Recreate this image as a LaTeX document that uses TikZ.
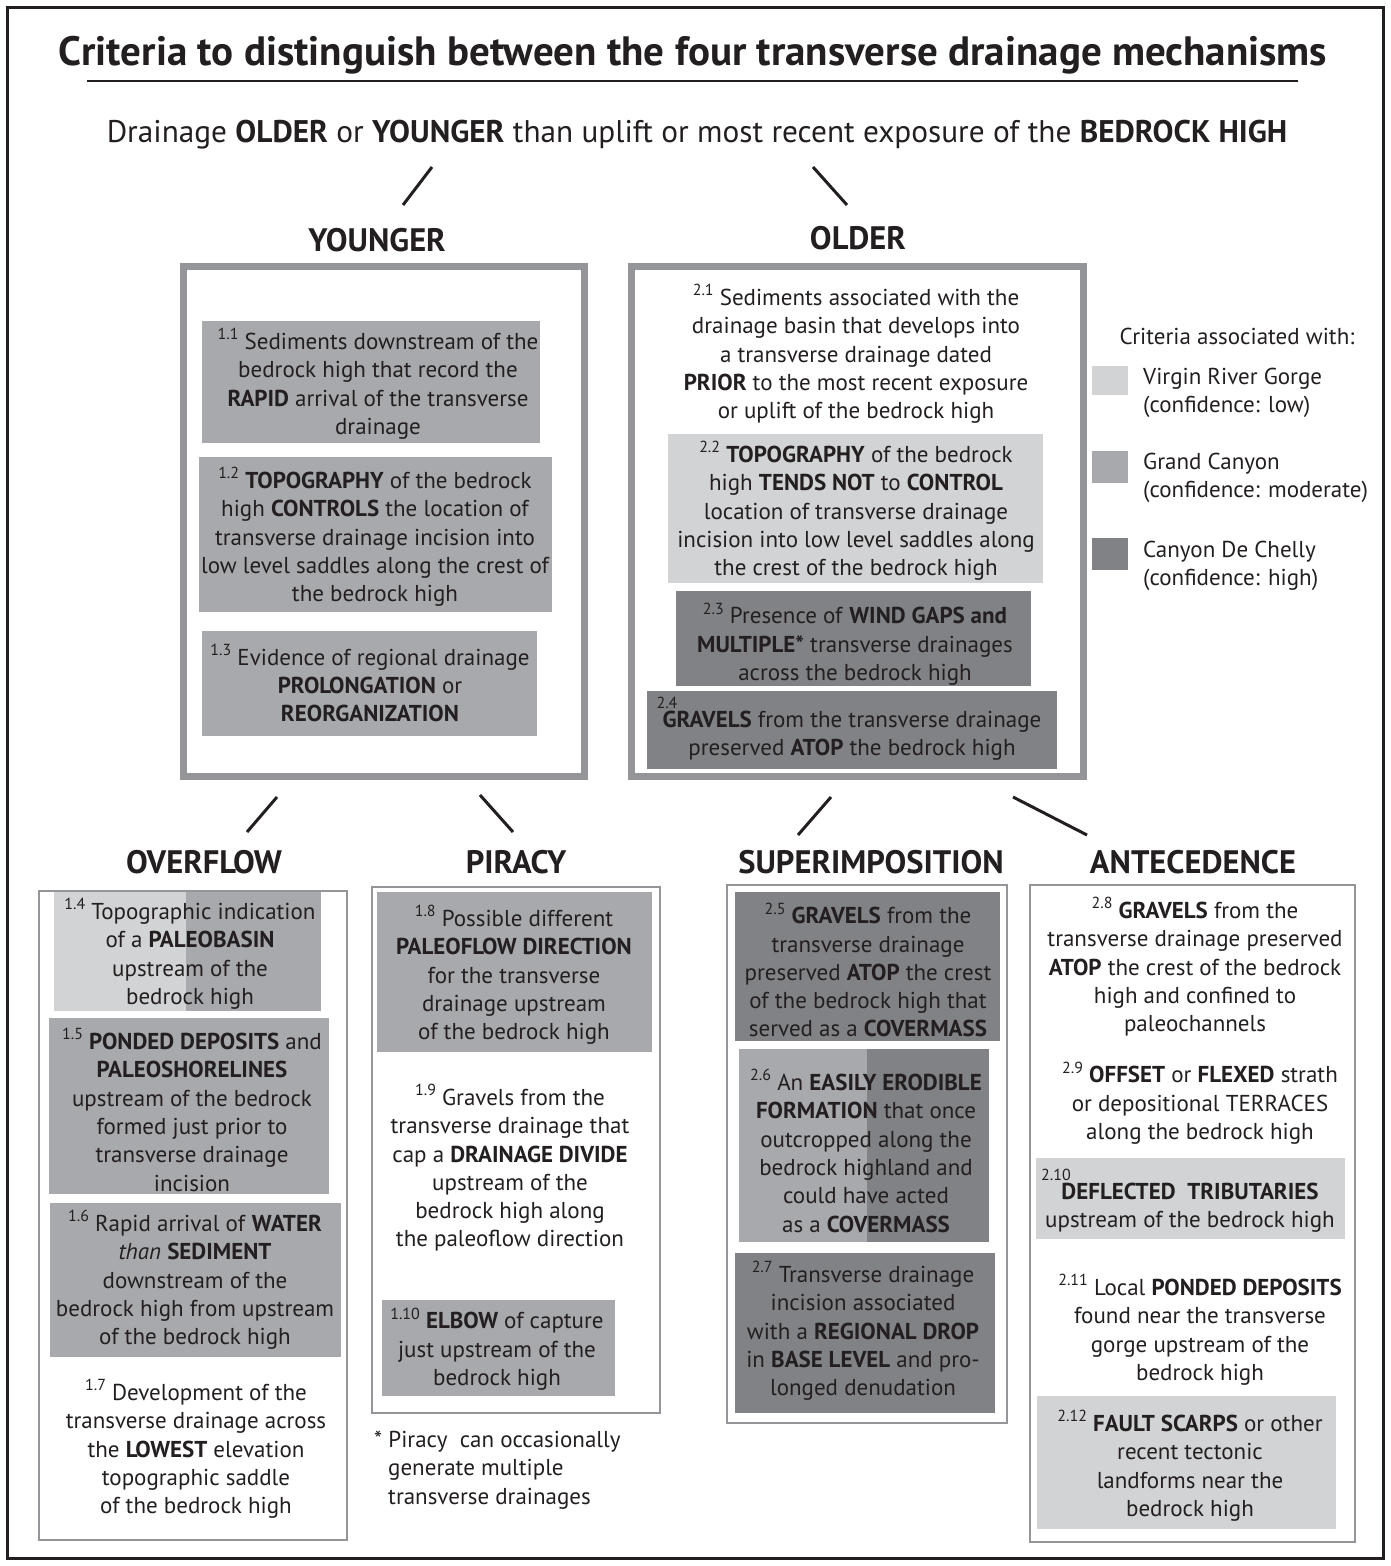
\documentclass[tikz,border=0pt]{standalone}
\usepackage{fontspec}
\setmainfont{PT Sans}
\definecolor{lgray}{HTML}{D1D3D4}
\definecolor{mgray}{HTML}{A7A9AC}
\definecolor{dgray}{HTML}{808285}
\definecolor{bgray}{HTML}{939598}
\definecolor{ink}{HTML}{231F20}
\newcommand\sn[1]{\raisebox{0.42em}{\fontsize{16}{16}\selectfont #1}}
\begin{document}
\begin{tikzpicture}[x=1pt,y=-1pt,
  body/.style={font=\fontsize{23}{28.3}\selectfont, align=center, inner sep=0pt, text=ink},
  head/.style={font=\fontsize{32.5}{36}\selectfont\bfseries, inner sep=0pt, text=ink},
  bigbox/.style={draw=bgray, line width=7},
  smallbox/.style={draw=bgray, line width=2},
  slash/.style={draw=ink, line width=3},
  leg/.style={font=\fontsize{23}{28}\selectfont, align=left, anchor=west, inner sep=0pt, text=ink}]
\useasboundingbox (0,0) rectangle (1390,1566);
\fill[white] (0,0) rectangle (1390,1566);
\draw[ink, line width=3] (7,7) rectangle (1383,1558);

% title
\node[font=\fontsize{41}{46}\selectfont\bfseries, inner sep=0pt, text=ink] (title) at (693,55) {Criteria to distinguish between the four transverse drainage mechanisms};
\coordinate (ulA) at (87,81); \coordinate (ulB) at (1298,81);
\draw[ink, line width=2.5] (ulA) -- (ulB);
\node[font=\fontsize{31.3}{35}\selectfont, inner sep=0pt, text=ink] (sub) at (697,135) {Drainage \textbf{OLDER} or \textbf{YOUNGER} than uplift or most recent exposure of the \textbf{BEDROCK HIGH}};

% level 1 connectors
\coordinate (s1a) at (432,167); \coordinate (s1b) at (403,205);
\coordinate (s2a) at (813,167); \coordinate (s2b) at (847,205);
\draw[slash] (s1a) -- (s1b);
\draw[slash] (s2a) -- (s2b);

\node[head] (younger) at (377,240) {YOUNGER};
\node[head] (older) at (858,238) {OLDER};

% YOUNGER box
\draw[bigbox] (183,266) rectangle (584,776);
\fill[mgray] (202,321) rectangle (540,443);
\fill[mgray] (199,457) rectangle (552,612);
\fill[mgray] (202,631) rectangle (537,736);
\node[body] (t11) at (378,384) {\sn{1.1} Sediments downstream of the\\bedrock high that record the\\\textbf{RAPID} arrival of the transverse\\drainage};
\node[body] (t12) at (375,537) {\sn{1.2} \textbf{TOPOGRAPHY} of the bedrock\\high \textbf{CONTROLS} the location of\\transverse drainage incision into\\low level saddles along the crest of\\the bedrock high};
\node[body] (t13) at (370,683) {\sn{1.3} Evidence of regional drainage\\\textbf{PROLONGATION} or\\\textbf{REORGANIZATION}};

% OLDER box
\draw[bigbox] (631,266) rectangle (1083,776);
\node[body] (t21) at (856,354) {\sn{2.1} Sediments associated with the\\drainage basin that develops into\\a transverse drainage dated\\\textbf{PRIOR} to the most recent exposure\\or uplift of the bedrock high};
\fill[lgray] (668,434) rectangle (1043,583);
\node[body] (t22) at (856,511) {\sn{2.2} \textbf{TOPOGRAPHY} of the bedrock\\high \textbf{TENDS NOT} to \textbf{CONTROL}\\location of transverse drainage\\incision into low level saddles along\\the crest of the bedrock high};
\fill[dgray] (676,591) rectangle (1031,686);
\node[body] (t23) at (855,644) {\sn{2.3} Presence of \textbf{WIND GAPS and}\\\textbf{MULTIPLE*} transverse drainages\\across the bedrock high};
\fill[dgray] (647,691) rectangle (1057,769);
\node[font=\fontsize{16}{16}\selectfont, inner sep=0pt, text=ink] (n24) at (667,703) {2.4};
\node[body] (t24) at (852,736) {\textbf{GRAVELS} from the transverse drainage\\preserved \textbf{ATOP} the bedrock high};

% legend
\node[font=\fontsize{23}{28}\selectfont, inner sep=0pt, text=ink] (legt) at (1237,336) {Criteria associated with:};
\fill[lgray] (1092,366) rectangle (1128,395);
\fill[mgray] (1092,451) rectangle (1128,483);
\fill[dgray] (1092,538) rectangle (1128,570);
\node[leg] (leg1) at (1143,393) {Virgin River Gorge\\(confidence: low)};
\node[leg] (leg2) at (1143,478) {Grand Canyon\\(confidence: moderate)};
\node[leg] (leg3) at (1143,566) {Canyon De Chelly\\(confidence: high)};

% level 2 connectors
\coordinate (s3a) at (277,797); \coordinate (s3b) at (247,832);
\coordinate (s4a) at (480,795); \coordinate (s4b) at (513,832);
\coordinate (s5a) at (831,797); \coordinate (s5b) at (798,835);
\coordinate (s6a) at (1013,797); \coordinate (s6b) at (1087,835);
\draw[slash] (s3a) -- (s3b);
\draw[slash] (s4a) -- (s4b);
\draw[slash] (s5a) -- (s5b);
\draw[slash] (s6a) -- (s6b);

\node[head] (overflow) at (204,862) {OVERFLOW};
\node[head] (piracy) at (516,862) {PIRACY};
\node[head] (superimp) at (871,862) {SUPERIMPOSITION};
\node[head] (antec) at (1193,862) {ANTECEDENCE};

% OVERFLOW
\draw[smallbox] (39,891) rectangle (347,1540);
\fill[lgray] (54,892) rectangle (186,1011);
\fill[mgray] (186,892) rectangle (321,1011);
\fill[mgray] (49,1018) rectangle (329,1194);
\fill[mgray] (50,1203) rectangle (341,1357);
\node[body] (t14) at (190,954) {\sn{1.4} Topographic indication\\of a \textbf{PALEOBASIN}\\upstream of the\\bedrock high};
\node[body] (t15) at (192,1110) {\sn{1.5} \textbf{PONDED DEPOSITS} and\\\textbf{PALEOSHORELINES}\\upstream of the bedrock\\formed just prior to\\transverse drainage\\incision};
\node[body] (t16) at (195,1280) {\sn{1.6} Rapid arrival of \textbf{WATER}\\\textit{than} \textbf{SEDIMENT}\\downstream of the\\bedrock high from upstream\\of the bedrock high};
\node[body] (t17) at (196,1449) {\sn{1.7} Development of the\\transverse drainage across\\the \textbf{LOWEST} elevation\\topographic saddle\\of the bedrock high};

% PIRACY
\draw[smallbox] (372,887) rectangle (660,1413);
\fill[mgray] (377,892) rectangle (652,1052);
\node[body] (t18) at (514,975) {\sn{1.8} Possible different\\\textbf{PALEOFLOW DIRECTION}\\for the transverse\\drainage upstream\\of the bedrock high};
\node[body] (t19) at (510,1168) {\sn{1.9} Gravels from the\\transverse drainage that\\cap a \textbf{DRAINAGE DIVIDE}\\upstream of the\\bedrock high along\\the paleoflow direction};
\fill[mgray] (382,1300) rectangle (615,1396);
\node[body] (t110) at (497,1349) {\sn{1.10} \textbf{ELBOW} of capture\\just upstream of the\\bedrock high};
\node[body, align=left, anchor=north west] (foot) at (374,1431) {* Piracy\ \ can occasionally\\\hspace*{14pt}generate multiple\\\hspace*{14pt}transverse drainages};

% SUPERIMPOSITION
\draw[smallbox] (727,885) rectangle (1007,1423);
\fill[dgray] (735,892) rectangle (1000,1041);
\node[body] (t25) at (868,970) {\sn{2.5} \textbf{GRAVELS} from the\\transverse drainage\\preserved \textbf{ATOP} the crest\\of the bedrock high that\\served as a \textbf{COVERMASS}};
\fill[mgray] (739,1049) rectangle (867,1242);
\fill[dgray] (867,1049) rectangle (989,1242);
\node[body] (t26) at (866,1151) {\sn{2.6} An \textbf{EASILY ERODIBLE}\\\textbf{FORMATION} that once\\outcropped along the\\bedrock highland and\\could have acted\\as a \textbf{COVERMASS}};
\fill[dgray] (735,1253) rectangle (995,1413);
\node[body] (t27) at (863,1331) {\sn{2.7} Transverse drainage\\incision associated\\with a \textbf{REGIONAL DROP}\\in \textbf{BASE LEVEL} and pro-\\longed denudation};

% ANTECEDENCE
\draw[smallbox] (1030,885) rectangle (1355,1542);
\node[body] (t28) at (1195,967) {\sn{2.8} \textbf{GRAVELS} from the\\transverse drainage preserved\\\textbf{ATOP} the crest of the bedrock\\high and confined to\\paleochannels};
\node[body] (t29) at (1200,1103) {\sn{2.9} \textbf{OFFSET} or \textbf{FLEXED} strath\\or depositional TERRACES\\along the bedrock high};
\fill[lgray] (1036,1158) rectangle (1345,1239);
\node[font=\fontsize{16}{16}\selectfont, inner sep=0pt, text=ink] (n210) at (1056,1175) {2.10};
\node[body] (t210) at (1190,1208) {\textbf{DEFLECTED\ \ TRIBUTARIES}\\upstream of the bedrock high};
\node[body] (t211) at (1200,1330) {\sn{2.11} Local \textbf{PONDED DEPOSITS}\\found near the transverse\\gorge upstream of the\\bedrock high};
\fill[lgray] (1037,1396) rectangle (1336,1529);
\node[body] (t212) at (1190,1466) {\sn{2.12} \textbf{FAULT SCARPS} or other\\recent tectonic\\landforms near the\\bedrock high};
\end{tikzpicture}
\end{document}
